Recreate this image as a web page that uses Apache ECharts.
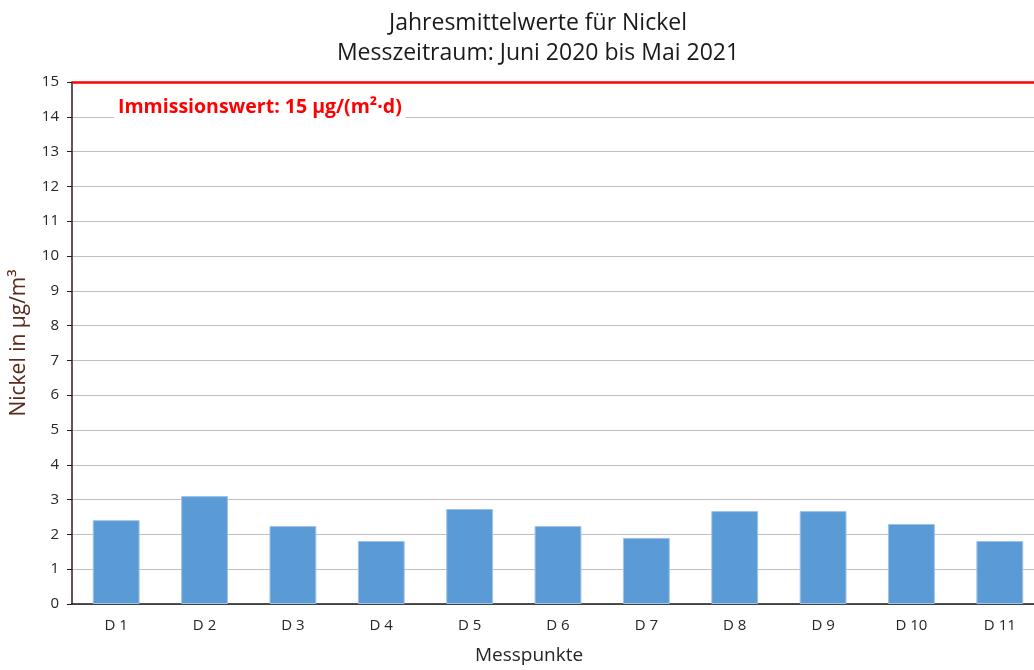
<!DOCTYPE html>
<html>
<head>
<meta charset="utf-8">
<script src="https://cdn.jsdelivr.net/npm/echarts@6/dist/echarts.min.js"></script>
<style>
  html, body { margin: 0; padding: 0; background: #fff; overflow: hidden; }
  /* plot area runs past the right edge like in the original */
  #chart { width: 1044px; height: 670px; }
</style>
</head>
<body>
<div id="chart"></div>
<script>
// Messpunkte und Jahresmittelwerte
const categories = ['D 1', 'D 2', 'D 3', 'D 4', 'D 5', 'D 6', 'D 7', 'D 8', 'D 9', 'D 10', 'D 11']
const nickelValues = [2.41, 3.10, 2.24, 1.81, 2.73, 2.24, 1.90, 2.67, 2.67, 2.30, 1.81]
const limitValue = 15
const limitLabel = 'Immissionswert: 15 µg/(m²·d)'

const font = '"Open Sans", "Noto Sans", sans-serif'
const chart = echarts.init(document.getElementById('chart'))

chart.setOption({
    animation: false,
    title: {
        text: 'Jahresmittelwerte für Nickel\nMesszeitraum: Juni 2020 bis Mai 2021',
        left: 533,
        textAlign: 'center',
        top: 3,
        textStyle: { fontFamily: font, fontSize: 23, fontWeight: 'normal', color: '#1a1a1a', lineHeight: 30 }
    },
    grid: { left: 72, right: 0, top: 82, bottom: 60 },
    xAxis: {
        type: 'category',
        data: categories,
        name: 'Messpunkte',
        nameLocation: 'middle',
        nameGap: 42,
        nameTextStyle: { fontFamily: font, fontSize: 19, color: '#262626', padding: [0, 58, 0, 0] },
        axisLine: { lineStyle: { color: '#1a1a1a', width: 1.5 } },
        axisTick: { alignWithLabel: true, length: 5, lineStyle: { color: '#1a1a1a' } },
        axisLabel: { fontFamily: font, fontSize: 15, color: '#262626', margin: 14 }
    },
    yAxis: {
        type: 'value',
        min: 0,
        max: 15,
        interval: 1,
        name: 'Nickel in µg/m³',
        nameLocation: 'middle',
        nameGap: 42,
        nameTextStyle: { fontFamily: font, fontSize: 21, color: '#5a2a1e' },
        axisLine: { show: true, lineStyle: { color: '#2b1d1d', width: 1.5 } },
        axisTick: { show: true, length: 5, lineStyle: { color: '#2b1d1d' } },
        axisLabel: { fontFamily: font, fontSize: 15, color: '#262626', margin: 13 },
        splitLine: { lineStyle: { color: '#bfbfbf', width: 1 } }
    },
    series: [{
        name: 'Nickel',
        type: 'bar',
        data: nickelValues,
        barCategoryGap: '47%',
        itemStyle: { color: '#5b9bd5', borderColor: '#9ec3e8', borderWidth: 1 },
        markLine: {
            symbol: 'none',
            silent: true,
            lineStyle: { color: '#ff0000', width: 2.5, type: 'solid' },
            label: {
                show: true,
                position: 'insideStartBottom',
                distance: [42, 13],
                formatter: limitLabel,
                fontFamily: font,
                fontSize: 19.5,
                fontWeight: 'bold',
                color: '#ff0000',
                backgroundColor: '#fff',
                padding: [2, 4]
            },
            data: [{ yAxis: limitValue }]
        }
    }]
})
</script>
</body>
</html>
